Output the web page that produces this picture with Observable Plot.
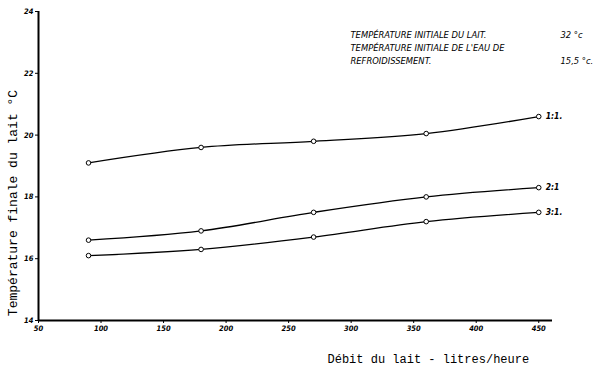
<!DOCTYPE html>
<html>
<head>
<meta charset="utf-8">
<script src="https://cdn.jsdelivr.net/npm/d3@7"></script>
<script src="https://cdn.jsdelivr.net/npm/@observablehq/plot@0.6"></script>
<style>
  html, body { margin: 0; padding: 0; background: #fff; }
  #chart svg { display: block; }
</style>
</head>
<body>
<div id="chart"></div>
<script>
// Data
const debits = [90, 180, 270, 360, 450];          // litres/heure
const serie1 = [19.1, 19.6, 19.8, 20.05, 20.6];   // 1:1.
const serie2 = [16.6, 16.9, 17.5, 18.0, 18.3];    // 2:1
const serie3 = [16.1, 16.3, 16.7, 17.2, 17.5];    // 3:1.
const seriesNames = ["1:1.", "2:1", "3:1."];
const xTicks = [50, 100, 150, 200, 250, 300, 350, 400, 450];
const yTicks = [14, 16, 18, 20, 22, 24];
const noteLines = [
  "TEMPÉRATURE INITIALE DU LAIT.",
  "TEMPÉRATURE INITIALE DE L'EAU DE",
  "REFROIDISSEMENT."
];
const noteValues = ["32 °c", "", "15,5 °c."];
const xLabel = "Débit du lait - litres/heure";
const yLabel = "Température finale du lait °C";

const allSeries = [serie1, serie2, serie3];
const rows = allSeries.flatMap((s, i) => s.map((v, j) => ({serie: seriesNames[i], x: debits[j], y: v})));
const lastPoints = allSeries.map((s, i) => ({serie: seriesNames[i], x: debits[debits.length - 1], y: s[s.length - 1]}));

const handFont = "'DejaVu Sans Condensed', 'DejaVu Sans', sans-serif";
const noteFont = "'DejaVu Sans', sans-serif";
const typeFont = "'Liberation Mono', 'DejaVu Sans Mono', monospace";

const noteStyle = {frameAnchor: "top-left", textAnchor: "start", fontSize: 8.4, fontStyle: "italic",
  fontFamily: noteFont};
const noteMarks = noteLines.flatMap((line, i) => [
  Plot.text([line], {...noteStyle, text: d => d, dx: 312, dy: 20.7 + i * 13.1}),
  Plot.text([noteValues[i]], {...noteStyle, text: d => d, dx: 522, dy: 20.7 + i * 13.1})
]);

const chart = Plot.plot({
  width: 600,
  height: 376,
  marginLeft: 38,
  marginRight: 48,
  marginTop: 11,
  marginBottom: 56,
  style: {background: "#fff", color: "#000"},
  x: {domain: [50, 461], ticks: xTicks},
  y: {domain: [14, 24], ticks: yTicks},
  marks: [
    Plot.axisX({
      ticks: xTicks, tickSize: 3, tickPadding: 2, label: null,
      fontSize: 7.5, fontStyle: "italic", fontWeight: "bold", fontFamily: handFont, strokeWidth: 1
    }),
    Plot.axisY({
      ticks: yTicks, tickSize: 3, tickPadding: 2, label: null,
      fontSize: 7.5, fontStyle: "italic", fontWeight: "bold", fontFamily: handFont, strokeWidth: 1
    }),
    Plot.ruleX([50], {stroke: "#000", strokeWidth: 2}),
    Plot.ruleY([14], {stroke: "#000", strokeWidth: 2}),
    Plot.line(rows, {x: "x", y: "y", z: "serie", curve: "catmull-rom", stroke: "#000", strokeWidth: 1.3}),
    Plot.dot(rows, {x: "x", y: "y", r: 2.3, stroke: "#000", fill: "#fff", strokeWidth: 1}),
    Plot.text(lastPoints, {
      x: "x", y: "y", text: "serie", dx: 7, textAnchor: "start",
      fontSize: 8.5, fontStyle: "italic", fontWeight: "bold", fontFamily: handFont
    }),
    ...noteMarks,
    Plot.text([yLabel], {
      frameAnchor: "left", textAnchor: "middle", text: d => d, rotate: -90, dx: -26, dy: 37,
      fontSize: 13, fontFamily: typeFont
    }),
    Plot.text([xLabel], {
      frameAnchor: "bottom-left", text: d => d, textAnchor: "start", dx: 289, dy: 42,
      fontSize: 12, fontFamily: typeFont
    })
  ]
});

document.getElementById("chart").appendChild(chart);
</script>
</body>
</html>
